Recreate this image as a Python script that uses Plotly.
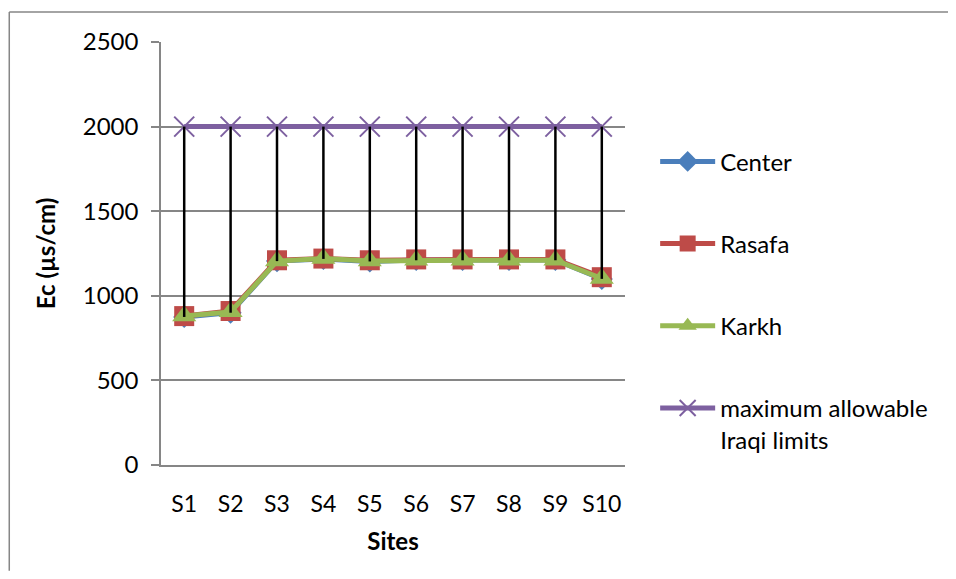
import plotly.graph_objects as go

sites = ["S1", "S2", "S3", "S4", "S5", "S6", "S7", "S8", "S9", "S10"]
center = [875, 900, 1205, 1218, 1203, 1212, 1212, 1212, 1212, 1100]
rasafa = [880, 910, 1210, 1220, 1210, 1215, 1215, 1215, 1215, 1110]
karkh = [880, 905, 1205, 1220, 1205, 1210, 1210, 1210, 1210, 1102]
limit = [2000, 2000, 2000, 2000, 2000, 2000, 2000, 2000, 2000, 2000]
y_ticks = [0, 500, 1000, 1500, 2000, 2500]

FONT = "Lato"
series = [center, rasafa, karkh, limit]

# high-low lines built from the series
hl_x, hl_y = [], []
for i, s in enumerate(sites):
    vals = [ser[i] for ser in series]
    hl_x += [s, s, None]
    hl_y += [min(vals), max(vals), None]

fig = go.Figure()
fig.add_trace(go.Scatter(x=sites, y=center, name="Center", mode="lines+markers",
                         line=dict(color="#4A7EBB", width=5),
                         marker=dict(symbol="diamond", size=17, color="#4A7EBB"),
                         legendgroup="a"))
fig.add_trace(go.Scatter(x=sites, y=rasafa, name="Rasafa", mode="lines+markers",
                         line=dict(color="#BE4B48", width=5),
                         marker=dict(symbol="square", size=20, color="#BE4B48"),
                         legendgroup="b"))
fig.add_trace(go.Scatter(x=sites, y=karkh, name="Karkh", mode="lines+markers",
                         line=dict(color="#98B954", width=5),
                         marker=dict(symbol="triangle-up", size=21, color="#98B954"),
                         legendgroup="c"))
fig.add_trace(go.Scatter(x=sites, y=limit, name="maximum allowable<br>Iraqi limits",
                         mode="lines+markers",
                         line=dict(color="#7D60A0", width=5),
                         marker=dict(symbol="x-thin", size=20, color="#7D60A0",
                                     line=dict(color="#7D60A0", width=2)),
                         legendgroup="d"))
fig.add_trace(go.Scatter(x=hl_x, y=hl_y, mode="lines", showlegend=False,
                         line=dict(color="black", width=2.5), hoverinfo="skip"))

fig.update_layout(
    width=940, height=563,
    margin=dict(l=153, r=323, t=34, b=106),
    paper_bgcolor="white", plot_bgcolor="white",
    font=dict(family=FONT, size=24, color="black"),
    legend=dict(x=1.065, y=0.77, xanchor="left", yanchor="top",
                tracegroupgap=48, itemwidth=55, valign="top",
                font=dict(family=FONT, size=24, color="black"),
                bgcolor="rgba(0,0,0,0)"),
    xaxis=dict(type="category", range=[-0.5, 9.5], showgrid=False,
               showline=True, linecolor="#868686", linewidth=1.5,
               ticks="", ticklabelstandoff=18,
               tickfont=dict(family=FONT, size=23),
               title=dict(text="<b>Sites</b>", font=dict(family=FONT, size=24), standoff=17)),
    yaxis=dict(range=[0, 2500], tickvals=y_ticks, showgrid=True,
               gridcolor="#868686", gridwidth=1.5, zeroline=False,
               showline=True, linecolor="#868686", linewidth=1.5,
               ticks="outside", ticklen=8, tickcolor="#868686", tickwidth=1.5,
               ticklabelstandoff=8,
               tickfont=dict(family=FONT, size=24),
               title=dict(text="<b>Ec (µs/cm)</b>", font=dict(family=FONT, size=24), standoff=20)),
    shapes=[
        dict(type="line", xref="paper", yref="paper", x0=-0.327, x1=-0.327, y0=-0.25, y1=1.071,
             line=dict(color="#868686", width=1.5)),
        dict(type="line", xref="paper", yref="paper", x0=-0.327, x1=1.7, y0=1.071, y1=1.071,
             line=dict(color="#868686", width=1.5)),
    ],
)

fig.write_html("out.html")
